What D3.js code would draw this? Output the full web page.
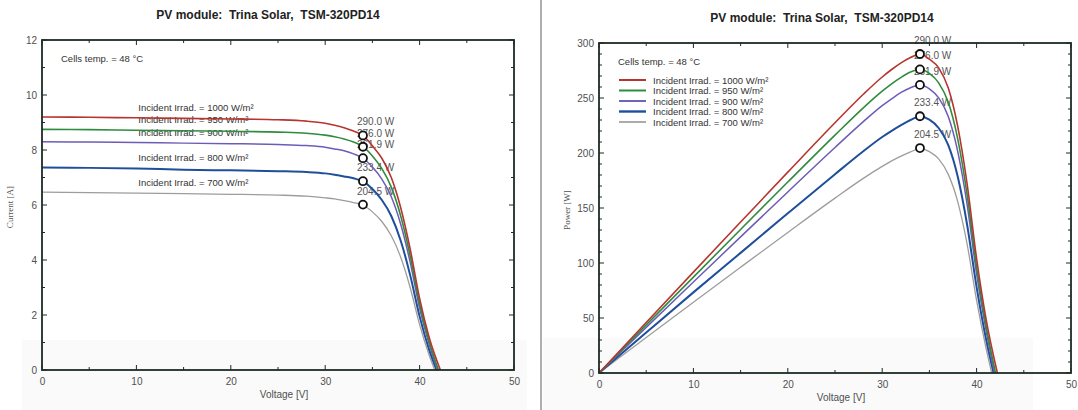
<!DOCTYPE html>
<html><head><meta charset="utf-8">
<script src="https://cdn.jsdelivr.net/npm/d3@7"></script>
<style>body{margin:0;background:#fff} svg{display:block}</style>
</head><body>
<svg id="c" width="1078" height="410"></svg>
<script>
// ---------- DATA ----------
const irradiance = [1000, 950, 900, 800, 700];
const voltage = [0, 5, 10, 15, 20, 25, 28, 30, 31, 32, 33, 34, 35, 36, 37, 38, 39, 40, 41];
const openCircuitVoltage = [42.2, 42.0, 41.9, 41.8, 41.6];
const current1000 = [9.20, 9.19, 9.17, 9.15, 9.13, 9.10, 9.05, 8.97, 8.90, 8.81, 8.69, 8.53, 8.15, 7.70, 7.00, 5.90, 4.40, 2.60, 1.20];
const current950  = [8.75, 8.74, 8.72, 8.70, 8.68, 8.65, 8.61, 8.54, 8.48, 8.40, 8.29, 8.12, 7.78, 7.32, 6.65, 5.60, 4.15, 2.40, 1.05];
const current900  = [8.30, 8.29, 8.27, 8.25, 8.23, 8.20, 8.16, 8.10, 8.04, 7.97, 7.86, 7.70, 7.38, 6.94, 6.30, 5.30, 3.92, 2.25, 0.95];
const current800  = [7.36, 7.35, 7.33, 7.28, 7.26, 7.23, 7.20, 7.15, 7.10, 7.04, 6.97, 6.86, 6.58, 6.18, 5.60, 4.70, 3.45, 1.95, 0.75];
const current700  = [6.47, 6.45, 6.43, 6.41, 6.39, 6.36, 6.32, 6.26, 6.22, 6.16, 6.09, 6.00, 5.75, 5.40, 4.88, 4.10, 3.00, 1.65, 0.55];
const mppVoltage = [34.0, 34.0, 34.0, 34.0, 34.0];
const mppPower = [290.0, 276.0, 261.9, 233.4, 204.5];
const voltageTicks = [0, 10, 20, 30, 40, 50];
const currentTicks = [0, 2, 4, 6, 8, 10, 12];
const powerTicks = [0, 50, 100, 150, 200, 250, 300];
const titleText = "PV module:  Trina Solar,  TSM-320PD14";
const tempText = "Cells temp. = 48 °C";

// ---------- STYLE ----------
const colors = ["#b5352f", "#2f8c3e", "#6c5cb8", "#1f4f9a", "#9d9d9d"];
const widths = [1.6, 1.6, 1.5, 2.0, 1.3];
const frameColor = "#1d2b24";
const font = "'Liberation Sans', Arial, sans-serif";

const currents = [current1000, current950, current900, current800, current700];
const series = irradiance.map((g, k) => ({
  g, k,
  pts: voltage.map((v, i) => ({v, i: currents[k][i]})).concat([{v: openCircuitVoltage[k], i: 0}])
}));
const legendLabel = g => `Incident Irrad. = ${g} W/m²`;

const svg = d3.select("#c").style("font-family", font);
svg.append("rect").attr("width", 1078).attr("height", 410).attr("fill", "#fff");
// faint scan tone regions and divider
svg.append("rect").attr("x", 22).attr("y", 340).attr("width", 505).attr("height", 70).attr("fill", "#fafafa");
svg.append("rect").attr("x", 543).attr("y", 338).attr("width", 490).attr("height", 72).attr("fill", "#fafafa");
svg.append("line").attr("x1", 541).attr("x2", 541).attr("y1", 0).attr("y2", 410).attr("stroke", "#9a9a9a").attr("stroke-width", 1.6);

function panel(opts) {
  const {x0, x1, y0, y1, yDomain, yTicks, yMinor, yLabel, titleX, titleY, isPower} = opts;
  const x = d3.scaleLinear().domain([0, 50]).range([x0, x1]);
  const y = d3.scaleLinear().domain(yDomain).range([y0, y1]);
  const g = svg.append("g");

  g.append("text").attr("x", titleX).attr("y", titleY).attr("text-anchor", "middle")
    .attr("font-size", 12).attr("font-weight", "bold").attr("fill", "#222")
    .style("white-space", "pre").text(titleText);

  // ticks (inward, all four sides)
  const xMinor = d3.range(0, 51, 5);
  const tk = g.append("g").attr("stroke", frameColor).attr("stroke-width", 1);
  xMinor.forEach(v => {
    const L = v % 10 === 0 ? 5 : 3;
    tk.append("line").attr("x1", x(v)).attr("x2", x(v)).attr("y1", y0).attr("y2", y0 - L);
    tk.append("line").attr("x1", x(v)).attr("x2", x(v)).attr("y1", y1).attr("y2", y1 + L);
  });
  d3.range(yDomain[0], yDomain[1] + 1e-9, yMinor).forEach(v => {
    const L = yTicks.includes(v) ? 5 : 3;
    tk.append("line").attr("x1", x0).attr("x2", x0 + L).attr("y1", y(v)).attr("y2", y(v));
    tk.append("line").attr("x1", x1).attr("x2", x1 - L).attr("y1", y(v)).attr("y2", y(v));
  });

  // axes tick labels using d3 axes (ticks hidden)
  const xa = g.append("g").attr("transform", `translate(0,${y0})`)
    .call(d3.axisBottom(x).tickValues(voltageTicks).tickSize(0).tickPadding(8));
  const ya = g.append("g").attr("transform", `translate(${x0},0)`)
    .call(d3.axisLeft(y).tickValues(yTicks).tickSize(0).tickPadding(5));
  [xa, ya].forEach(a => {
    a.select(".domain").remove();
    a.selectAll("text").attr("font-size", 10).attr("fill", "#505050").attr("font-family", font);
  });

  g.append("text").attr("x", (x0 + x1) / 2 + 6).attr("y", y0 + 28).attr("text-anchor", "middle")
    .attr("font-size", 10).attr("fill", "#505050").text("Voltage [V]");
  g.append("text").attr("transform", `translate(${x0 - 29},${(y0 + y1) / 2 + 2}) rotate(-90)`)
    .attr("text-anchor", "middle").attr("font-size", 9).attr("fill", "#505050")
    .attr("font-family", "'Liberation Serif', 'Times New Roman', serif").text(yLabel);

  g.append("text").attr("x", x0 + 19).attr("y", y1 + 22).attr("font-size", 9.5).attr("fill", "#333").text(tempText);

  const val = d => isPower ? d.v * d.i : d.i;
  const mppY = k => isPower ? mppPower[k] : mppPower[k] / mppVoltage[k];

  // power labels
  g.append("g").selectAll("text").data(series).join("text")
    .attr("x", d => x(mppVoltage[d.k]) - 6)
    .attr("y", d => y(mppY(d.k)) - 10)
    .attr("font-size", 10).attr("fill", "#555")
    .text(d => d3.format(".1f")(mppPower[d.k]) + " W");

  if (!isPower) {
    g.append("g").selectAll("text").data(series).join("text")
      .attr("x", x(10.2))
      .attr("y", d => y(d.pts[2].i) - 7)
      .attr("font-size", 9.5).attr("fill", "#333")
      .text(d => legendLabel(d.g));
  } else {
    const lg = g.append("g");
    series.forEach((d, k) => {
      const yy = y1 + 37 + k * 10.5;
      lg.append("line").attr("x1", x0 + 20).attr("x2", x0 + 47).attr("y1", yy).attr("y2", yy)
        .attr("stroke", colors[k]).attr("stroke-width", widths[k] + 0.4);
      lg.append("text").attr("x", x0 + 54).attr("y", yy + 3.5).attr("font-size", 9.5).attr("fill", "#333")
        .text(legendLabel(d.g));
    });
  }

  const line = d3.line().x(d => x(d.v)).y(d => y(val(d))).curve(d3.curveMonotoneX);
  g.append("g").selectAll("path").data(series.slice().reverse()).join("path")
    .attr("d", d => line(d.pts)).attr("fill", "none")
    .attr("stroke", d => colors[d.k]).attr("stroke-width", d => widths[d.k]);

  g.append("g").selectAll("circle").data(series).join("circle")
    .attr("cx", d => x(mppVoltage[d.k])).attr("cy", d => y(mppY(d.k))).attr("r", 4)
    .attr("fill", "#fff").attr("stroke", "#111").attr("stroke-width", 1.8);

  g.append("rect").attr("x", x0).attr("y", y1).attr("width", x1 - x0).attr("height", y0 - y1)
    .attr("fill", "none").attr("stroke", frameColor).attr("stroke-width", 1.8);
}

panel({x0: 42, x1: 514, y0: 370, y1: 40, yDomain: [0, 12], yTicks: currentTicks, yMinor: 1,
  yLabel: "Current [A]", titleX: 268, titleY: 19, isPower: false});
panel({x0: 599, x1: 1071, y0: 373, y1: 43, yDomain: [0, 300], yTicks: powerTicks, yMinor: 10,
  yLabel: "Power [W]", titleX: 822, titleY: 22, isPower: true});
</script>
</body></html>
